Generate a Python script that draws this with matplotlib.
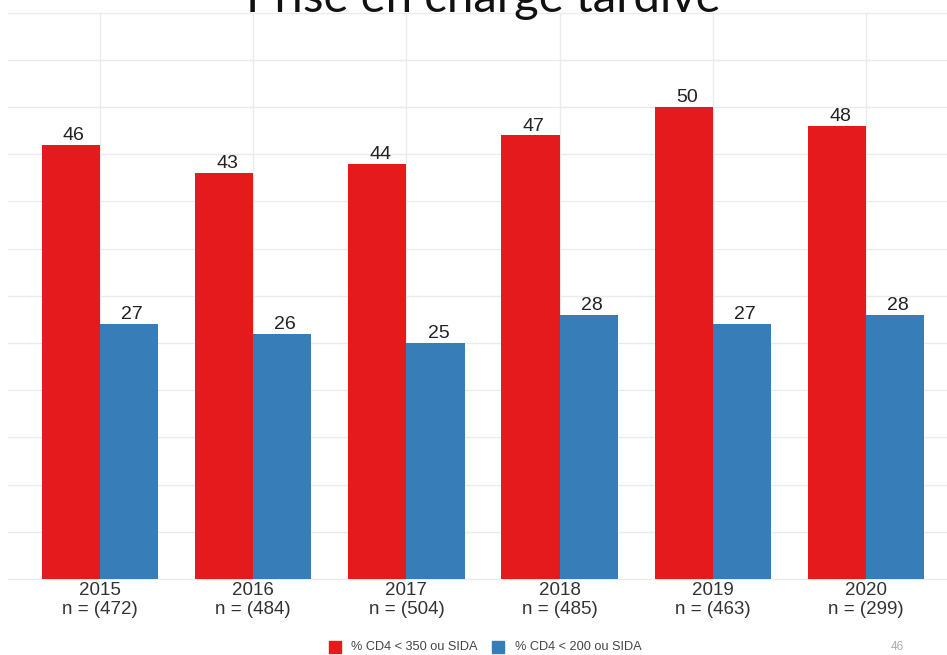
import numpy as np
import matplotlib
matplotlib.use("Agg")
import matplotlib.pyplot as plt
from matplotlib.patches import Rectangle

# Data
years = ["2015", "2016", "2017", "2018", "2019", "2020"]
n_patients = [472, 484, 504, 485, 463, 299]
cd4_350 = [46, 43, 44, 47, 50, 48]
cd4_200 = [27, 26, 25, 28, 27, 28]
series_labels = ["% CD4 < 350 ou SIDA", "% CD4 < 200 ou SIDA"]
colors = ["#E41A1C", "#377EB8"]

W, H = 947, 655
fig = plt.figure(figsize=(W / 100, H / 100), dpi=100)

# Panel geometry in pixels: x from 8 to 958 (spills past the right edge), y from 12.7 to 579
left_px, right_px = 8, 958
top_px, bottom_px = 12.7, 579
ax = fig.add_axes([left_px / W, (H - bottom_px) / H,
                   (right_px - left_px) / W, (bottom_px - top_px) / H])

x = np.arange(1, len(years) + 1)
bw = 0.38
ax.set_xlim(0.4, len(years) + 0.6)
ax.set_ylim(0, 60)

# Grid
for yv in np.arange(0, 61, 5):
    ax.axhline(yv, color="#ebebeb", lw=1.0, zorder=0, clip_on=False)
for xv in x:
    ax.axvline(xv, color="#ebebeb", lw=1.0, zorder=0)

b1 = ax.bar(x - bw / 2, cd4_350, width=bw, color=colors[0], zorder=2)
b2 = ax.bar(x + bw / 2, cd4_200, width=bw, color=colors[1], zorder=2)

for bars, vals in ((b1, cd4_350), (b2, cd4_200)):
    for rect, v in zip(bars, vals):
        ax.annotate(f"{v}", (rect.get_x() + rect.get_width() / 2 + 0.02, v),
                    xytext=(0, 0.5), textcoords="offset points",
                    ha="center", va="bottom", fontsize=14,
                    family="Liberation Sans", color="#222222")

ax.set_xticks(x)
ax.set_xticklabels([f"{y}\nn = ({n})" for y, n in zip(years, n_patients)],
                   fontsize=13.5, family="Liberation Sans", color="#333333",
                   linespacing=1.15)
ax.tick_params(axis="x", length=0, pad=2)
ax.set_yticks([])
for s in ax.spines.values():
    s.set_visible(False)

# Title (partly above the top edge)
fig.text(483 / W, (H - 12.5) / H, "Prise en charge tardive", ha="center",
         va="baseline", fontsize=34, family="Lato", color="#111111")

# Legend at the bottom
leg_y = (H - 647) / H
sq = 12
fig.patches.append(Rectangle((329 / W, leg_y - sq / 2 / H), sq / W, sq / H,
                             transform=fig.transFigure, color=colors[0]))
fig.text(351 / W, leg_y, series_labels[0], fontsize=9.2, family="Liberation Sans",
         va="center", ha="left", color="#444444")
fig.patches.append(Rectangle((492 / W, leg_y - sq / 2 / H), sq / W, sq / H,
                             transform=fig.transFigure, color=colors[1]))
fig.text(515 / W, leg_y, series_labels[1], fontsize=9.2, family="Liberation Sans",
         va="center", ha="left", color="#444444")

# Slide number
fig.text(897 / W, leg_y, "46", fontsize=8.5, family="Liberation Sans",
         va="center", ha="center", color="#aaaaaa")

fig.savefig("out.png", dpi=100)
